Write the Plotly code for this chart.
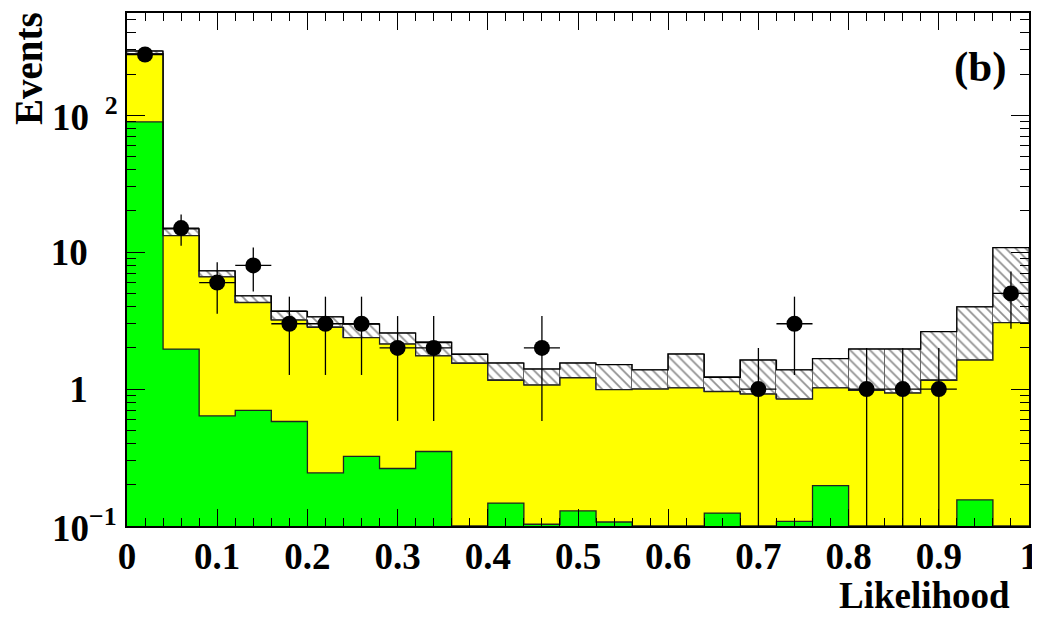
import numpy as np
import plotly.graph_objects as go

# ---- data (25 bins of width 0.04 on Likelihood 0..1) ----
bin_width = 0.04
n_bins = 25
green_signal = [89.4, 1.96, 0.638, 0.70, 0.58, 0.244, 0.322, 0.263, 0.35, 0.0,
                0.147, 0.103, 0.129, 0.107, 0.0, 0.0, 0.124, 0.0, 0.108, 0.197,
                0.0, 0.0, 0.0, 0.155, 0.0]
yellow_total = [282, 13.2, 6.6, 4.29, 3.19, 2.82, 2.38, 2.13, 1.75, 1.54,
                1.16, 1.07, 1.21, 0.99, 1.0, 1.02, 0.96, 0.92, 0.845, 1.02,
                0.98, 0.935, 1.16, 1.63, 3.06]
hatch_upper = [294, 14.8, 7.3, 4.8, 3.7, 3.37, 2.98, 2.56, 2.19, 1.79,
               1.55, 1.40, 1.55, 1.51, 1.38, 1.80, 1.22, 1.63, 1.38, 1.67,
               1.96, 1.96, 2.63, 3.99, 10.8]
data_counts = [278, 15, 6, 8, 3, 3, 3, 2, 2, 0,
               0, 2, 0, 0, 0, 0, 0, 1, 3, 0,
               1, 1, 1, 0, 5]
x_tickvals = [0, 0.1, 0.2, 0.3, 0.4, 0.5, 0.6, 0.7, 0.8, 0.9, 1]
x_ticktext = ["0", "0.1", "0.2", "0.3", "0.4", "0.5", "0.6", "0.7", "0.8", "0.9", "1"]
y_tickvals = [0.1, 1, 10, 100]
y_ticktext = ["", "1", "10", ""]
y_exp_vals = [0.1, 100]
y_exp_text = ["10<sup>−1</sup>", "10 <sup> 2</sup>"]

YMIN = 0.1
edges = np.arange(n_bins + 1) * bin_width
centers = edges[:-1] + bin_width / 2
green = np.array(green_signal, dtype=float)
total = np.array(yellow_total, dtype=float)
upper = np.array(hatch_upper, dtype=float)
counts = np.array(data_counts, dtype=float)

FONT = "Liberation Serif"
fig = go.Figure()

fig.add_trace(go.Bar(x=centers, y=total, width=bin_width,
                     marker=dict(color="#ffff00", line=dict(width=0)), showlegend=False))
fig.add_trace(go.Bar(x=centers, y=np.where(green > 0, green, np.nan), width=bin_width,
                     marker=dict(color="#00ff00", line=dict(width=0)), showlegend=False))
fig.add_trace(go.Bar(x=centers, y=upper - total, base=total, width=bin_width,
                     marker=dict(color="white",
                                 pattern=dict(shape="\\", fgcolor="#222222", bgcolor="white",
                                              size=7, solidity=0.25),
                                 line=dict(color="#666666", width=1)),
                     showlegend=False))

def step(vals, color, width=1.3):
    v = np.clip(vals, YMIN, None)
    fig.add_trace(go.Scatter(x=edges, y=np.append(v, v[-1]), mode="lines",
                             line=dict(color=color, width=width, shape="hv"),
                             showlegend=False, hoverinfo="skip"))

step(total, "#222222")
step(green, "#222222")
step(upper, "#000000")

mask = counts > 0
fig.add_trace(go.Scatter(
    x=centers[mask], y=counts[mask], mode="markers",
    marker=dict(color="black", size=16),
    error_y=dict(type="data", array=np.sqrt(counts[mask]),
                 arrayminus=np.sqrt(counts[mask]), color="black", thickness=1.3, width=0),
    error_x=dict(type="constant", value=bin_width / 2, color="black", thickness=1.3, width=0),
    showlegend=False))

# The page body has an 8px margin; size the figure so the plot frame lands
# where the reference has it.
annotations = [
    dict(text="<b>Likelihood</b>", xref="paper", yref="paper", x=0.981, y=-0.135,
         xanchor="right", yanchor="middle", showarrow=False,
         font=dict(family=FONT, size=37, color="black")),
    dict(text="<b>Events</b>", xref="paper", yref="paper", x=-0.109, y=1.006,
         xanchor="center", yanchor="top", textangle=-90, showarrow=False,
         font=dict(family=FONT, size=39, color="black")),
    dict(text="<b>(b)</b>", xref="paper", yref="paper", x=0.946, y=0.895,
         xanchor="center", yanchor="middle", showarrow=False,
         font=dict(family=FONT, size=43, color="black")),
]
for v, t in zip(y_exp_vals, y_exp_text):
    annotations.append(dict(text="<b>" + t + "</b>", xref="paper", yref="y",
                            x=-0.0854, y=np.log10(v), xanchor="left", yanchor="middle",
                            yshift=1, showarrow=False,
                            font=dict(family=FONT, size=37, color="black")))

fig.update_layout(
    width=1032, height=611,
    margin=dict(l=119, r=11, t=5, b=93),
    paper_bgcolor="white", plot_bgcolor="white",
    barmode="overlay", bargap=0,
    font=dict(family=FONT, color="black"),
    annotations=annotations,
)

fig.update_xaxes(
    range=[0, 1], showgrid=False, zeroline=False, automargin=False,
    showline=True, linecolor="black", linewidth=1.5, mirror="ticks",
    ticks="inside", ticklen=17, tickwidth=1.2, tickcolor="black",
    tickmode="array", tickvals=x_tickvals, ticktext=x_ticktext,
    tickfont=dict(family=FONT, size=37, color="black", weight="bold"),
    ticklabelstandoff=-3,
    minor=dict(ticks="inside", ticklen=8, tickwidth=1.2, tickcolor="black", dtick=0.02, showgrid=False),
    layer="above traces",
)
minor_y = [k * 10.0 ** d for d in range(-1, 3) for k in range(2, 10)]
fig.update_yaxes(
    type="log", range=[-1, 2.747], showgrid=False, zeroline=False, automargin=False,
    showline=True, linecolor="black", linewidth=1.5, mirror="ticks",
    ticks="inside", ticklen=18, tickwidth=1.2, tickcolor="black",
    tickmode="array", tickvals=y_tickvals, ticktext=y_ticktext,
    tickfont=dict(family=FONT, size=37, color="black", weight="bold"),
    ticklabelstandoff=30,
    minor=dict(ticks="inside", ticklen=9, tickwidth=1.2, tickcolor="black",
               tickmode="array", tickvals=minor_y, showgrid=False),
    layer="above traces",
)

fig.write_html("out.html")
